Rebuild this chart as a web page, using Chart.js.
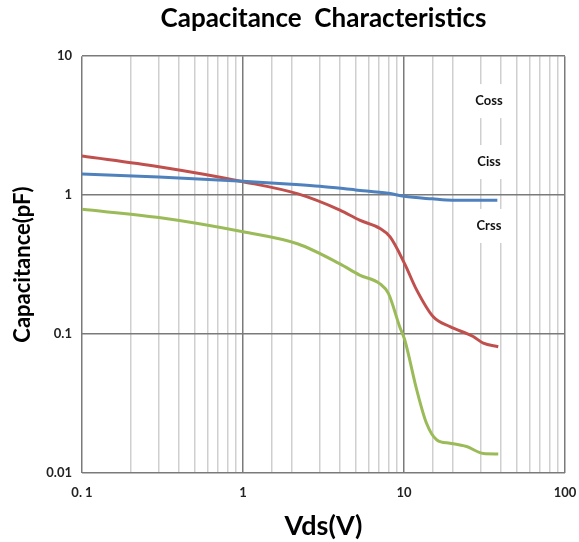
<!DOCTYPE html>
<html>
<head>
<meta charset="utf-8">
<script src="https://cdn.jsdelivr.net/npm/chart.js@4"></script>
<style>
  html, body { margin: 0; padding: 0; background: #fff; }
  #wrap { width: 579px; height: 542px; }
</style>
</head>
<body>
<div id="wrap"><canvas id="capChart" width="579" height="542"></canvas></div>
<script>
// values (Vds in V, capacitance in pF)
const blueVds = [0.1, 0.3, 1, 2, 3, 5, 8, 10, 15, 20, 38];
const blueCap = [1.42, 1.35, 1.26, 1.2, 1.16, 1.09, 1.03, 0.98, 0.94, 0.92, 0.92];

const redVds = [0.1, 0.3, 1, 2.2, 4, 5.3, 7.1, 8.2, 10.1, 12, 15.2, 19.3, 26.9, 31.1, 38.5];
const redCap = [1.91, 1.6, 1.25, 1.02, 0.78, 0.66, 0.575, 0.5, 0.32, 0.207, 0.133, 0.113, 0.096, 0.086, 0.081];

const greenVds = [0.1, 0.3, 1, 2.2, 4, 5.3, 7.1, 8, 9.4, 10.1, 12, 13.8, 16, 19.3, 24.5, 31.1, 38.5];
const greenCap = [0.79, 0.69, 0.545, 0.445, 0.32, 0.266, 0.23, 0.196, 0.113, 0.091, 0.0396, 0.0228, 0.0173, 0.0164, 0.0155, 0.0138, 0.0137];

const xTickLabels = {0.1: '0. 1', 1: '1', 10: '10', 100: '100'};
const yTickLabels = {0.01: '0.01', 0.1: '0.1', 1: '1', 10: '10'};

const curveNames = ['Coss', 'Ciss', 'Crss'];
const curveNameCap = [4.75, 1.73, 0.6];
const curveNameVds = 33.7;

const FONT = 'Lato, "Open Sans", sans-serif';

function toPoints(xs, ys) {
  return xs.map((x, i) => ({x: x, y: ys[i]}));
}

function isDecade(v) {
  const l = Math.log10(v);
  return Math.abs(l - Math.round(l)) < 1e-6;
}

// curve names sit on white boxes over the grid
const curveLabels = {
  id: 'curveLabels',
  afterDatasetsDraw(chart) {
    const ctx = chart.ctx;
    const xs = chart.scales.x, ys = chart.scales.y;
    ctx.save();
    ctx.font = 'bold 13px ' + FONT;
    ctx.textAlign = 'center';
    ctx.textBaseline = 'middle';
    curveNames.forEach((name, i) => {
      const px = xs.getPixelForValue(curveNameVds);
      const py = ys.getPixelForValue(curveNameCap[i]);
      const w = ctx.measureText(name).width;
      ctx.fillStyle = '#fff';
      ctx.fillRect(px - w / 2 - 6, py - 17, w + 12, 34);
      ctx.fillStyle = '#111';
      ctx.fillText(name, px, py);
    });
    ctx.restore();
  }
};

const config = {
  type: 'scatter',
  data: {
    datasets: [
      {
        label: 'blue',
        data: toPoints(blueVds, blueCap),
        borderColor: '#4F81BD',
        backgroundColor: '#4F81BD',
        borderWidth: 3,
        showLine: true,
        pointRadius: 0,
        cubicInterpolationMode: 'monotone'
      },
      {
        label: 'red',
        data: toPoints(redVds, redCap),
        borderColor: '#C0504D',
        backgroundColor: '#C0504D',
        borderWidth: 3,
        showLine: true,
        pointRadius: 0,
        cubicInterpolationMode: 'monotone'
      },
      {
        label: 'green',
        data: toPoints(greenVds, greenCap),
        borderColor: '#9BBB59',
        backgroundColor: '#9BBB59',
        borderWidth: 3,
        showLine: true,
        pointRadius: 0,
        cubicInterpolationMode: 'monotone'
      }
    ]
  },
  options: {
    responsive: false,
    animation: false,
    layout: { padding: { left: 10, right: 14, top: 0, bottom: 0 } },
    plugins: {
      legend: { display: false },
      tooltip: { enabled: false },
      title: {
        display: true,
        fullSize: false,
        text: 'Capacitance  Characteristics',
        color: '#000',
        font: { family: FONT, size: 26, weight: 'bold' },
        padding: { top: 3, bottom: 22 }
      }
    },
    scales: {
      x: {
        type: 'logarithmic',
        min: 0.1,
        max: 100,
        border: { display: false },
        grid: {
          drawTicks: false,
          color: ctx => isDecade(ctx.tick.value) ? '#7a7a7a' : '#cfcfcf',
          lineWidth: 1.5
        },
        ticks: {
          autoSkip: false,
          maxRotation: 0,
          padding: 12,
          color: '#222',
          font: { family: FONT, size: 13, weight: 'bold' },
          callback: v => xTickLabels[v] !== undefined ? xTickLabels[v] : ''
        },
        title: {
          display: true,
          text: 'Vds(V)',
          color: '#000',
          font: { family: FONT, size: 27, weight: 'bold' },
          padding: { top: 6, bottom: 0 }
        },
        afterFit: s => {
          s.height = 69;
          s.paddingLeft = 0;
          s.paddingRight = 0;
        }
      },
      y: {
        type: 'logarithmic',
        min: 0.01,
        max: 10,
        border: { display: false },
        grid: {
          drawTicks: false,
          color: ctx => isDecade(ctx.tick.value) ? '#7a7a7a' : 'rgba(0,0,0,0)',
          lineWidth: 1.5
        },
        ticks: {
          autoSkip: false,
          padding: 10,
          color: '#222',
          font: { family: FONT, size: 13, weight: 'bold' },
          callback: v => yTickLabels[v] !== undefined ? yTickLabels[v] : ''
        },
        title: {
          display: true,
          text: 'Capacitance(pF)',
          color: '#000',
          font: { family: FONT, size: 22, weight: 'bold' },
          padding: { top: 0, bottom: 4 }
        },
        afterFit: s => { s.width = 72; }
      }
    }
  },
  plugins: [curveLabels]
};

const capChart = new Chart(document.getElementById('capChart'), config);
</script>
</body>
</html>
